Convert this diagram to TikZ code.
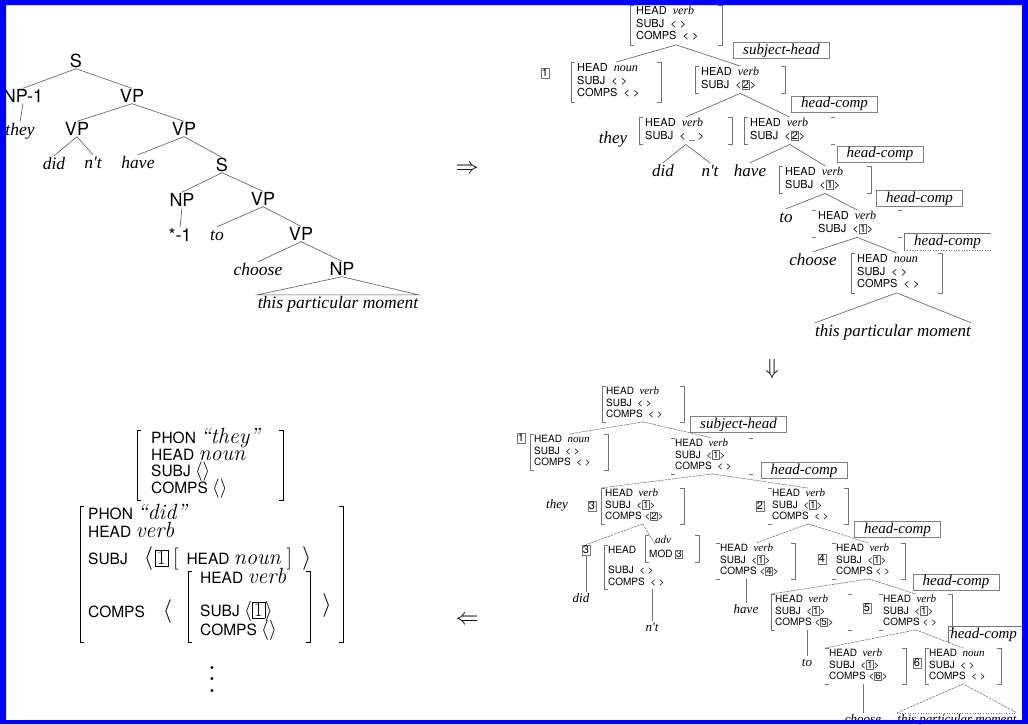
\documentclass[tikz,border=0pt]{standalone}
\usepackage{fontspec}
\setsansfont{TeX Gyre Heros}
\newfontfamily\tms{Liberation Serif}
\usetikzlibrary{positioning}
\definecolor{Frame}{RGB}{0,0,255}
\definecolor{Ink}{gray}{0.35}
\newcommand\avmrows[2]{\begin{tabular}{@{}p{#1}@{}}#2\end{tabular}}
\newcommand\rv[1]{{\tms\itshape\fontsize{12}{12}\selectfont #1}}
\newcommand\sv[1]{{\tms\itshape\fontsize{11}{11}\selectfont #1}}
\newcommand\lv[1]{\smash{\rmfamily\itshape\fontsize{22}{22}\selectfont #1}}
\newcommand\bx[1]{{\fboxsep=0.5pt\fcolorbox{black!60}{white}{#1}}}
\newcommand\bigbx[1]{\smash{\fboxsep=1.5pt\fbox{\rmfamily\fontsize{20}{20}\selectfont #1}}}
\newcommand\tallbr[1]{\smash{\rmfamily\fontsize{22}{22}\selectfont #1}}
\newcommand\angl[1][1.65]{\smash{\scalebox{#1}{$\langle$}}}
\newcommand\angr[1][1.65]{\smash{\scalebox{#1}{$\rangle$}}}
\newcommand\avmL[2][brk]{\draw[#1] ([xshift=4pt]#2.north west) -| (#2.south west) -- ([xshift=4pt]#2.south west);}
\newcommand\avmR[2][brk]{\draw[#1] ([xshift=-4pt]#2.north east) -| (#2.south east) -- ([xshift=-4pt]#2.south east);}
\newcommand\tickL[2][brk]{\draw[#1] ([xshift=4pt]#2.north west) -- (#2.north west) ([xshift=4pt]#2.south west) -- (#2.south west);}
\newcommand\tickR[2][brk]{\draw[#1] ([xshift=-4pt]#2.north east) -- (#2.north east) ([xshift=-4pt]#2.south east) -- (#2.south east);}

\begin{document}
\begin{tikzpicture}[x=1pt,y=-1pt,
    syncat/.style={font=\fontsize{18}{18}\sffamily,inner sep=1pt,text height=13pt,text depth=0pt},
    leaf/.style={font=\fontsize{17.5}{18}\tms\itshape,inner sep=1pt,text height=12pt,text depth=4pt},
    leafs/.style={font=\fontsize{13}{13}\tms\itshape,inner sep=1pt,text height=9pt,text depth=3pt},
    avmt/.style={font=\fontsize{11}{12.5}\sffamily,inner xsep=6pt,inner ysep=1pt,anchor=north west},
    avmb/.style={font=\fontsize{10}{11.5}\sffamily,inner xsep=4pt,inner ysep=0.5pt,anchor=north west},
    lavm/.style={font=\fontsize{15.5}{16.4}\sffamily,inner xsep=5pt,inner ysep=2pt,anchor=north west},
    idx/.style={font=\fontsize{11}{11}\sffamily,draw=black!55,line width=0.5pt,inner sep=1pt},
    rulebox/.style={draw=black!50,line width=0.6pt,font=\fontsize{15}{15}\tms\itshape,inner xsep=9.5pt,inner ysep=1pt,text height=10.5pt,text depth=3.5pt},
    branch/.style={draw=Ink,line width=0.6pt},
    dbranch/.style={draw=black!55,line width=0.6pt,dash pattern=on 2.5pt off 1pt},
    vbranch/.style={draw=black!55,line width=0.7pt},
    brk/.style={draw=black!55,line width=0.6pt},
    lbrk/.style={draw=black,line width=0.8pt}]
\useasboundingbox (0,0) rectangle (1028,724);
\fill[white] (0,0) rectangle (1028,724);

\node[syncat] (s1) at (76,61) {S};
\node[syncat] (np1) at (23,96) {NP-1};
\node[syncat] (vp1) at (132,96) {VP};
\node[leaf] (they1) at (20,131) {they};
\node[syncat] (vp2) at (77,129) {VP};
\node[syncat] (vp3) at (184,129) {VP};
\node[leaf] (did1) at (54,165) {did};
\node[leaf] (nt1) at (93,164) {n't};
\node[leaf] (have1) at (138,164) {have};
\node[syncat] (s2) at (222,165) {S};
\node[syncat] (np2) at (182,200) {NP};
\node[syncat] (vp4) at (263,199) {VP};
\node[syncat] (tr1) at (180,235) {*-1};
\node[leaf] (to1) at (217,236) {to};
\node[syncat] (vp5) at (301,234) {VP};
\node[leaf] (ch1) at (258,271) {choose};
\node[syncat] (np3) at (342,269) {NP};
\node[leaf,inner xsep=0pt] (tpm1) at (338,304) {this particular moment};
\draw[branch] (s1.south) -- (np1.north); \draw[branch] (s1.south) -- (vp1.north);
\draw[branch] (np1.south) -- (they1.north);
\draw[branch] (vp1.south) -- (vp2.north); \draw[branch] (vp1.south) -- (vp3.north);
\draw[branch] (vp2.south) -- (did1.north); \draw[branch] (vp2.south) -- (nt1.north);
\draw[branch] (vp3.south) -- (have1.north); \draw[branch] (vp3.south) -- (s2.north);
\draw[branch] (s2.south) -- (np2.north); \draw[branch] (s2.south) -- (vp4.north);
\draw[branch] (np2.south) -- (tr1.north);
\draw[branch] (vp4.south) -- (to1.north); \draw[branch] (vp4.south) -- (vp5.north);
\draw[branch] (vp5.south) -- (ch1.north); \draw[branch] (vp5.south) -- (np3.north);
\draw[branch] (np3.south) -- (tpm1.north west) -- (tpm1.north east) -- cycle;

\node (arr1) at (467,169) {\scalebox{2.3}{$\Rightarrow$}};
\node (arr2) at (772,369) {\scalebox{2.2}{$\Downarrow$}};
\node (arr3) at (467,620) {\scalebox{2.3}{$\Leftarrow$}};

\node[avmt] (t0) at (630,5) {\avmrows{80pt}{HEAD~~\rv{verb}\\SUBJ~~< >\\COMPS~~< >}};
\node[avmt] (t1) at (571,62) {\avmrows{78pt}{HEAD~~\rv{noun}\\SUBJ~~< >\\COMPS~~< >}};
\node[idx] (i1) at (545,73) {1};
\node[avmt] (t2) at (695,66) {\avmrows{78pt}{HEAD~~\rv{verb}\\SUBJ~~<\bx{2}>}};
\node[leaf,font=\fontsize{17}{17}\tms\itshape] (they2) at (613,139) {they};
\node[avmt] (t3) at (639,117) {\avmrows{81pt}{HEAD~~\rv{verb}\\SUBJ~~<~\textcolor{black!50}{\rule[-1pt]{6pt}{0.6pt}}~>}};
\node[avmt] (t4) at (744,117) {\avmrows{79pt}{HEAD~~\rv{verb}\\SUBJ~~<\bx{2}>}};
\node[leaf,font=\fontsize{17}{17}\tms\itshape] (did2) at (663,172) {did};
\node[leaf,font=\fontsize{17}{17}\tms\itshape] (nt2) at (710,172) {n't};
\node[leaf,font=\fontsize{17}{17}\tms\itshape] (have2) at (750,172) {have};
\node[avmt] (t5) at (779,166) {\avmrows{80pt}{HEAD~~\rv{verb}\\SUBJ~~<\bx{1}>}};
\node[leaf,font=\fontsize{17}{17}\tms\itshape] (to2) at (786,218) {to};
\node[avmt] (t6) at (812,210) {\avmrows{78pt}{HEAD~~\rv{verb}\\SUBJ~~<\bx{1}>}};
\node[leaf,font=\fontsize{17}{17}\tms\itshape] (ch2) at (813,261) {choose};
\node[avmt] (t7) at (851,253) {\avmrows{79pt}{HEAD~~\rv{noun}\\SUBJ~~< >\\COMPS~~< >}};
\node[leaf,font=\fontsize{17}{17}\tms\itshape,inner xsep=0pt] (tpm2) at (893,332) {this particular moment};
\avmL{t0}\avmR{t0}\avmL{t1}\avmR{t1}\avmL{t2}\avmR{t2}\avmL{t3}\avmR{t3}
\avmL{t4}\tickR{t4}\avmL{t5}\avmR{t5}\tickL{t6}\tickR{t6}\avmL{t7}\avmR{t7}
\node[rulebox] (r1) at (781.5,50.5) {subject-head};
\node[rulebox] (r2) at (834.5,104) {head-comp};
\node[rulebox] (r3) at (880,154) {head-comp};
\node[rulebox] (r4) at (919.5,198.5) {head-comp};
\node[rulebox,draw=none] (r5) at (947.5,241.5) {head-comp};
\draw[brk] (r5.south west) -- (r5.north west) -- (r5.north east); \draw[brk,dotted] (r5.south west) -- (r5.south east);
\draw[branch] (t0.south) -- (t1.north); \draw[branch] (t0.south) -- (t2.north);
\draw[branch] (t2.south) -- (t3.north); \draw[branch] (t2.south) -- (t4.north);
\draw[branch] (t3.south) -- (did2.north); \draw[branch] (t3.south) -- (nt2.north);
\draw[branch] (t4.south) -- (have2.north); \draw[branch] (t4.south) -- (t5.north);
\draw[branch] (t5.south) -- (to2.north); \draw[branch] (t5.south) -- (t6.north);
\draw[branch] (t6.south) -- (ch2.north); \draw[branch] (t6.south) -- (t7.north);
\draw[branch] (tpm2.north west) -- (t7.south) -- (tpm2.north east);

\node[avmb] (b0) at (602,386) {\avmrows{74pt}{HEAD~~\sv{verb}\\SUBJ~~< >\\COMPS~~< >}};
\node[avmb] (b1) at (530,434) {\avmrows{70pt}{HEAD~~\sv{noun}\\SUBJ~~< >\\COMPS~~< >}};
\node[idx] (i2) at (521,438) {1};
\node[avmb] (b2) at (671,438) {\avmrows{74pt}{HEAD~~\sv{verb}\\SUBJ~~<\bx{1}>\\COMPS~~< >}};
\node[leafs] (they3) at (557,505) {they};
\node[idx] (i3) at (592,506) {3};
\node[avmb] (b3) at (601,488) {\avmrows{75pt}{HEAD~~\sv{verb}\\SUBJ~~<\bx{1}>\\COMPS~<\bx{2}>}};
\node[idx] (i4) at (760,506) {2};
\node[avmb] (b4) at (768,488) {\avmrows{72pt}{HEAD~~\sv{verb}\\SUBJ~~<\bx{1}>\\COMPS~~< >}};
\node[idx] (i5) at (586,550) {3};
\node[leafs] (did3) at (581,599) {did};
\node[avmb] (b5) at (604,545) {\avmrows{95pt}{HEAD\\[8.5pt]SUBJ~~< >\\COMPS~~< >}};
\node[avmb] (b5v) at (645,535) {\avmrows{46pt}{\hspace{6pt}\sv{adv}\\[2.5pt]MOD~\bx{3}}};
\node[leafs] (nt3) at (652,628) {n't};
\node[avmb] (b6) at (716,543) {\avmrows{71pt}{HEAD~~\sv{verb}\\SUBJ~~<\bx{1}>\\COMPS~<\bx{4}>}};
\node[leafs] (have3) at (746,610) {have};
\node[idx] (i6) at (822,559) {4};
\node[avmb] (b7) at (832,543) {\avmrows{65pt}{HEAD~~\sv{verb}\\SUBJ~~<\bx{1}>\\COMPS~< >}};
\node[avmb] (b8) at (771,594) {\avmrows{73pt}{HEAD~~\sv{verb}\\SUBJ~~<\bx{1}>\\COMPS~<\bx{5}>}};
\node[leafs] (to3) at (807,663) {to};
\node[idx] (i7) at (867,608) {5};
\node[avmb] (b9) at (879,594) {\avmrows{65pt}{HEAD~~\sv{verb}\\SUBJ~~<\bx{1}>\\COMPS~< >}};
\node[avmb] (b10) at (825,648) {\avmrows{73pt}{HEAD~~\sv{verb}\\SUBJ~~<\bx{1}>\\COMPS~<\bx{6}>}};
\node[leafs] (ch3) at (863,720) {choose};
\node[idx] (i8) at (917,663) {6};
\node[avmb] (b11) at (925,648) {\avmrows{68pt}{HEAD~~\sv{noun}\\SUBJ~~< >\\COMPS~~< >}};
\node[leafs,inner xsep=0pt] (tpm3) at (957,720) {this particular moment};
\avmL{b0}\avmR{b0}\avmL{b1}\avmR{b1}\tickL{b2}\tickR{b2}\avmL{b3}\avmR{b3}\tickL{b4}\avmR{b4}
\avmL{b5}\avmL{b5v}\avmR{b5v}\tickL{b6}\avmR{b6}\tickL{b7}\avmR{b7}\avmL{b8}\tickR{b8}
\tickL{b9}\avmR{b9}\tickL{b10}\avmR{b10}\avmL{b11}\avmR{b11}
\node[rulebox] (q1) at (738.5,424.5) {subject-head};
\node[rulebox] (q2) at (804,470.5) {head-comp};
\node[rulebox] (q3) at (897.5,529.5) {head-comp};
\node[rulebox] (q4) at (956,582) {head-comp};
\node[rulebox,draw=none,inner xsep=2pt,anchor=west] (q5) at (948,634.5) {head-comp};
\draw[brk] (q5.south west) -- (q5.north west) -- ([xshift=10pt]q5.north east);
\draw[dbranch] (b0.south) -- (b1.north); \draw[dbranch] (b0.south) -- (b2.north);
\draw[dbranch] (b2.south) -- (b3.north west); \draw[dbranch] (b2.south) -- (b4.north);
\draw[dbranch] (b3.south) -- (i5.north); \draw[dbranch] (b3.south) -- (b5.north);
\draw[dbranch] (b4.south) -- (b6.north); \draw[dbranch] (b4.south) -- (b7.north);
\draw[dbranch] (b7.south) -- (b8.north west); \draw[dbranch] (b7.south) -- (b9.north);
\draw[dbranch] (b9.south) -- (b10.north west); \draw[dbranch] (b9.south) -- (b11.north);
\draw[vbranch] (i5.south) -- (i5.south |- did3.north);
\draw[vbranch] (nt3.north |- b5.south) -- (nt3.north);
\draw[vbranch] (have3.north |- b6.south) -- (have3.north);
\draw[vbranch] (to3.north |- b8.south) -- (to3.north);
\draw[vbranch] (ch3.north |- b10.south) -- (ch3.north);
\draw[dbranch] (tpm3.north west) -- (b11.south) -- (tpm3.north east);
\draw[brk,dotted] (tpm3.north west) -- (tpm3.north east);

\node[lavm,inner xsep=14pt] (theyavm) at (137,430) {\avmrows{118pt}{PHON \lv{“they”}\\HEAD \lv{noun}\\SUBJ \angl[1.35]\angr[1.35]\\COMPS \angl[1.35]\angr[1.35]}};
\node[lavm,inner xsep=8pt,inner ysep=1pt] (didavm) at (80,506.6) {\avmrows{247pt}{PHON \lv{“did”}\\[1.6pt]HEAD \lv{verb}\\[11.1pt]SUBJ\hspace{16pt}\angl\hspace{2pt}\bigbx{1}\hspace{5pt}\tallbr{[}\hspace{8pt}HEAD \lv{noun}\hspace{6pt}\tallbr{]}\hspace{10pt}\angr\\[35.6pt]COMPS\hspace{18pt}\angl\\[19pt]}};
\node[lavm,inner xsep=12pt,inner ysep=1pt] (compsavm) at (188,571) {\avmrows{98pt}{HEAD \lv{verb}\\[16.6pt]SUBJ \angl[1.4]\bigbx{1}\angr[1.4]\\[2.6pt]COMPS \angl[1.4]\angr[1.4]}};
\node[lavm,anchor=center,inner sep=0pt] (cclose) at (327,611) {\angr};
\node[inner sep=0pt] (dots) at (212,671) {\scalebox{2.8}{$\vdots$}};
\avmL[lbrk]{theyavm}\avmR[lbrk]{theyavm}\avmL[lbrk]{didavm}\avmR[lbrk]{didavm}\avmL[lbrk]{compsavm}\avmR[lbrk]{compsavm}

\fill[Frame,even odd rule] (0,0) rectangle (1028,724) (6,5) rectangle (1022,720);
\end{tikzpicture}
\end{document}
